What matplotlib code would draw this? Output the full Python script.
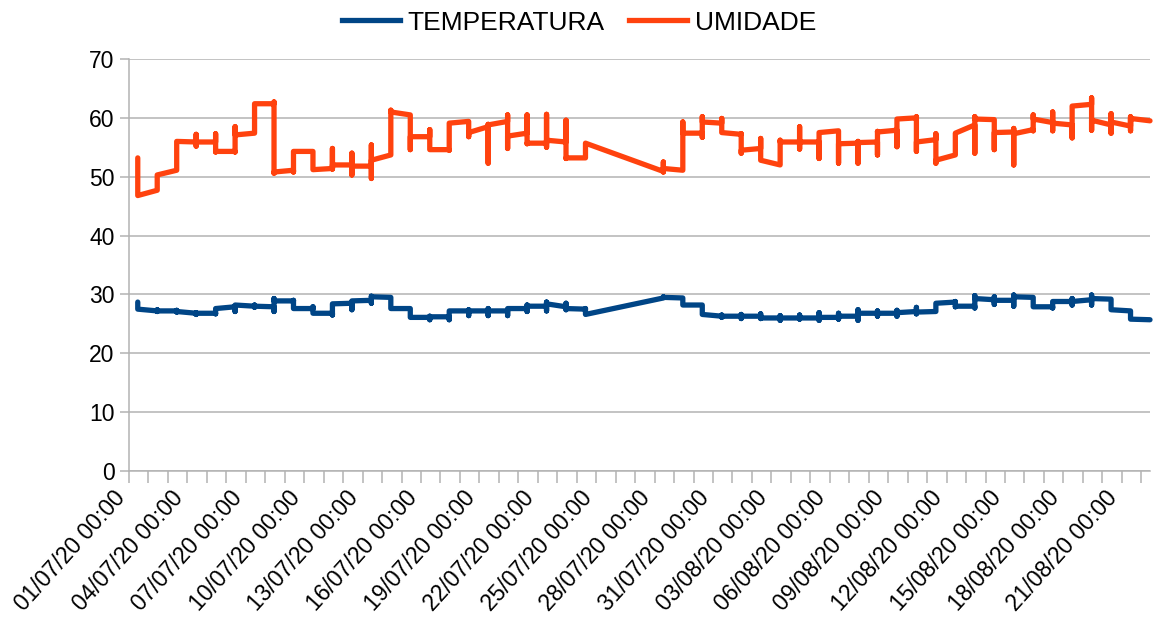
import matplotlib
matplotlib.use("Agg")
import matplotlib.pyplot as plt
import matplotlib.dates as mdates
import matplotlib.ticker as mticker
import matplotlib.transforms as mtransforms
from matplotlib.lines import Line2D
from datetime import datetime, timedelta

plt.rcParams['font.family'] = ['Liberation Sans', 'DejaVu Sans']

# ---------------- data ----------------
dias = [
    "01/07/2020", "02/07/2020", "03/07/2020", "04/07/2020", "05/07/2020",
    "06/07/2020", "07/07/2020", "08/07/2020", "09/07/2020", "10/07/2020",
    "11/07/2020", "12/07/2020", "13/07/2020", "14/07/2020", "15/07/2020",
    "16/07/2020", "17/07/2020", "18/07/2020", "19/07/2020", "20/07/2020",
    "21/07/2020", "22/07/2020", "23/07/2020", "24/07/2020",
    "28/07/2020", "29/07/2020", "30/07/2020", "31/07/2020", "01/08/2020",
    "02/08/2020", "03/08/2020", "04/08/2020", "05/08/2020", "06/08/2020",
    "07/08/2020", "08/08/2020", "09/08/2020", "10/08/2020", "11/08/2020",
    "12/08/2020", "13/08/2020", "14/08/2020", "15/08/2020", "16/08/2020",
    "17/08/2020", "18/08/2020", "19/08/2020", "20/08/2020", "21/08/2020",
    "22/08/2020",
]
hora_leitura = "10:48"

# readings of each day, in recording order
temperatura = [
    [28.7, 27.5], [27.2, 27.4, 27.1, 27.2], [27.2, 27.3, 27.0, 27.1],
    [26.8, 26.9, 26.6, 26.8], [26.8, 26.7, 27.6], [27.9, 27.1, 28.2, 28.2],
    [28.0, 28.2, 27.8, 28.0], [27.9, 27.1, 29.3, 28.9], [28.9, 29.0, 27.6],
    [27.6, 27.9, 26.8, 26.8], [26.8, 26.5, 28.4, 28.4], [28.5, 27.4, 28.8, 28.9],
    [29.0, 28.5, 29.7, 29.6], [29.5, 27.6], [27.6, 26.1],
    [26.1, 25.7, 26.3, 26.2], [26.2, 25.7, 27.2, 27.2], [27.2, 27.4, 26.4, 27.2],
    [27.2, 27.6, 26.4, 27.2], [27.2, 26.4, 27.6, 27.6], [27.6, 27.1, 28.2, 28.0],
    [28.0, 27.2, 28.7, 28.4], [27.9, 28.5, 27.4, 27.6], [27.5, 27.6, 26.6],
    [29.4, 29.6, 29.5], [29.4, 28.2], [28.2, 26.6],
    [26.3, 26.5, 26.1, 26.3], [26.3, 26.6, 25.9, 26.3], [26.3, 26.7, 25.9, 26.0],
    [26.0, 26.4, 25.6, 26.0], [26.0, 26.5, 25.8, 26.0], [26.0, 26.9, 25.6, 26.1],
    [26.1, 26.8, 25.8, 26.3], [26.3, 27.4, 25.6, 26.8], [26.8, 27.2, 26.3, 26.8],
    [26.8, 27.3, 26.3, 26.9], [27.1, 27.8, 26.7, 27.0], [27.1, 28.5],
    [28.7, 28.8, 27.9, 28.0], [28.0, 27.7, 29.8, 29.3], [29.1, 29.6, 28.3, 29.0],
    [29.0, 28.0, 29.9, 29.6], [29.5, 27.9], [27.9, 27.7, 28.7, 28.8],
    [28.8, 29.3, 28.2, 28.8], [29.1, 29.9, 28.2, 29.3], [29.2, 27.4],
    [27.2, 25.8], [25.7],
]

umidade = [
    [53.2, 46.8], [47.7, 50.3], [51.1, 56.0], [55.9, 57.2, 55.2, 55.9],
    [55.9, 57.3, 54.2, 54.3], [54.3, 54.2, 58.5, 57.1], [57.4, 62.4, 62.4],
    [62.4, 62.7, 50.6, 50.8], [51.1, 50.8, 54.3, 54.3], [54.3, 54.3, 51.2, 51.2],
    [51.4, 54.8, 51.3, 52.0], [52.0, 54.0, 50.3, 51.8], [51.8, 55.4, 49.7, 52.8],
    [53.7, 61.3, 61.0], [60.5, 54.6, 56.8], [56.8, 58.0, 54.6],
    [54.6, 54.5, 59.1], [59.4, 59.4, 56.8, 57.5], [58.5, 58.9, 52.3, 58.8],
    [59.4, 60.5, 54.8, 56.9], [57.4, 60.5, 55.6, 55.7], [55.7, 60.6, 55.0, 56.2],
    [55.9, 59.6, 53.1, 53.2], [53.2, 55.7],
    [50.9, 52.5, 50.8, 51.4], [51.1, 51.1, 59.3, 57.4], [57.4, 56.7, 60.2, 59.3],
    [59.1, 59.9, 57.5, 57.5], [57.2, 57.3, 54.0, 54.5], [54.8, 56.5, 52.8, 52.8],
    [52.0, 52.0, 56.2, 55.9], [55.9, 58.5, 54.7, 55.9], [55.9, 53.1, 57.4, 57.5],
    [57.8, 57.8, 52.3, 55.6], [55.7, 56.0, 52.3, 55.8], [55.9, 53.7, 57.7, 57.6],
    [57.9, 55.1, 59.7, 59.8], [60.0, 60.2, 54.3, 55.9], [56.3, 57.3, 52.3, 52.8],
    [53.7, 57.4], [58.8, 54.0, 60.2, 59.8], [59.7, 59.6, 54.6, 57.5],
    [57.6, 58.2, 52.0, 57.3], [58.0, 57.8, 60.5, 59.8], [59.2, 61.0, 57.8, 59.1],
    [58.8, 56.6, 62.0], [62.3, 63.4, 57.9, 59.6], [58.8, 60.7, 57.4, 59.3],
    [58.6, 60.2, 57.8, 59.9], [59.5],
]

series_nomes = ["TEMPERATURA", "UMIDADE"]
series_cores = ["#004586", "#ff420e"]

y_ticks = [0, 10, 20, 30, 40, 50, 60, 70]
inicio_eixo = "01/07/2020"
passo_rotulos_dias = 3


def expandir(dias, grupos):
    xs, ys = [], []
    for d, g in zip(dias, grupos):
        t = datetime.strptime(d + " " + hora_leitura, "%d/%m/%Y %H:%M")
        for v in g:
            xs.append(t)
            ys.append(v)
    return xs, ys


W, H = 1158, 628
fig = plt.figure(figsize=(W / 100, H / 100), dpi=100)
left, right, top, bottom = 129, 1150, 59, 471
ax = fig.add_axes([left / W, 1 - bottom / H, (right - left) / W, (bottom - top) / H])

for nome, cor, grupos in zip(series_nomes, series_cores, [temperatura, umidade]):
    xs, ys = expandir(dias, grupos)
    ax.plot(xs, ys, color=cor, lw=3.8, solid_capstyle='round',
            solid_joinstyle='round', clip_on=False, zorder=3, label=nome)

t0 = datetime.strptime(inicio_eixo, "%d/%m/%Y")
t_fim = datetime.strptime(dias[-1] + " " + hora_leitura, "%d/%m/%Y %H:%M")
ax.set_xlim(t0, t_fim)
ax.set_ylim(0, 70)

major = []
t = t0
while t <= t_fim:
    major.append(mdates.date2num(t))
    t += timedelta(days=passo_rotulos_dias)
ax.xaxis.set_major_locator(mticker.FixedLocator(major))
ax.xaxis.set_minor_locator(mdates.DayLocator())
ax.xaxis.set_major_formatter(mdates.DateFormatter("%d/%m/%y %H:%M"))
ax.set_yticks(y_ticks)

grid_c = '#b3b3b3'
ax.yaxis.grid(True, color=grid_c, lw=1.1, zorder=0)
ax.set_axisbelow(True)
for s in ['top', 'right']:
    ax.spines[s].set_visible(False)
for s in ['left', 'bottom']:
    ax.spines[s].set_color(grid_c)
    ax.spines[s].set_linewidth(1.1)

ax.tick_params(axis='x', which='both', direction='out', length=8.5, width=1.1,
               color=grid_c, labelsize=16.5, pad=8.0)
ax.tick_params(axis='y', which='both', direction='out', length=6.5, width=1.1,
               color=grid_c, labelsize=16.5, pad=4)
shift = mtransforms.ScaledTranslation(-8 / 100, 0, fig.dpi_scale_trans)
for lab in ax.get_xticklabels():
    lab.set_rotation(48)
    lab.set_ha('right')
    lab.set_va('center')
    lab.set_rotation_mode('anchor')
    lab.set_transform(lab.get_transform() + shift)

handles = [Line2D([0], [0], color=c, lw=3.8) for c in series_cores]
fig.legend(handles, series_nomes, loc='upper center', bbox_to_anchor=(0.5, 1.0),
           ncol=2, frameon=False, fontsize=19, handlelength=2.2,
           handletextpad=0.27, columnspacing=0.95, borderaxespad=0.0)

fig.savefig("out.png", dpi=100)
